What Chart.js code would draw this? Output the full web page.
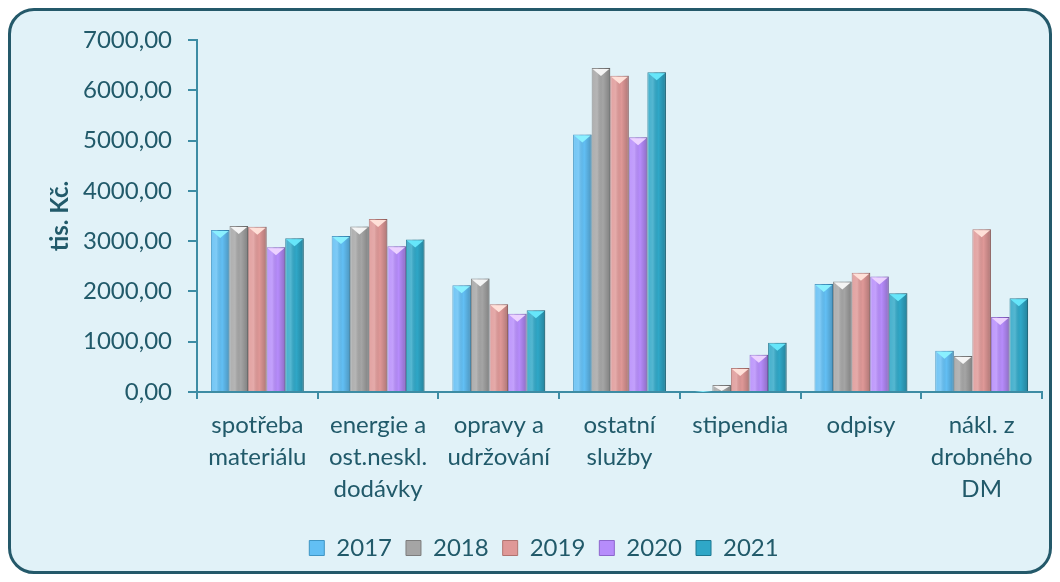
<!DOCTYPE html>
<html>
<head>
<meta charset="utf-8">
<script src="https://cdn.jsdelivr.net/npm/chart.js@4"></script>
<style>
  html, body { margin: 0; padding: 0; background: #ffffff; }
  #obal { position: relative; width: 1060px; height: 582px; }
  #ramecek {
    position: absolute; left: 8px; top: 8px; width: 1038px; height: 560px;
    border: 3px solid #24596a; border-radius: 26px; background: #e1f2f8;
  }
  #graf { position: absolute; left: 0; top: 0; }
</style>
</head>
<body>
<div id="obal">
  <div id="ramecek"></div>
  <canvas id="graf" width="1060" height="582"></canvas>
</div>
<script>
// kategorie nakladu (popisky osy x)
const kategorie = [
  ['spotřeba', 'materiálu'],
  ['energie a', 'ost.neskl.', 'dodávky'],
  ['opravy a', 'udržování'],
  ['ostatní', 'služby'],
  'stipendia',
  'odpisy',
  ['nákl. z', 'drobného', 'DM']
];
const roky = ['2017', '2018', '2019', '2020', '2021'];

// hodnoty v tis. Kč, odhadnute z obrazku
const hodnoty2017 = [3220, 3100, 2125, 5120, 20, 2150, 820];
const hodnoty2018 = [3300, 3290, 2255, 6445, 140, 2195, 715];
const hodnoty2019 = [3285, 3440, 1745, 6290, 475, 2370, 3235];
const hodnoty2020 = [2880, 2900, 1555, 5065, 740, 2295, 1490];
const hodnoty2021 = [3060, 3035, 1625, 6360, 980, 1965, 1865];

const barvy = ['#62bff4', '#a5a5a5', '#df9897', '#b68cfb', '#2fa7c7'];
const okraje = ['#3f95c4', '#7d7d7d', '#b07370', '#8c66cc', '#1d7891'];
const spicky = ['#8af0ff', '#f4f4f4', '#ffe0d8', '#ecd2ff', '#66e6fa'];

const barvaTextu = '#215a6a';
const barvaOs = '#3d8ca4';

Chart.defaults.font.family = 'Lato';
Chart.defaults.font.size = 24;
Chart.defaults.color = barvaTextu;

// 3D efekt sloupcu: prechod zleva doprava a svetly trojuhelnik nahore
const efekt3D = {
  id: 'efekt3D',
  afterDatasetsDraw(chart) {
    const ctx = chart.ctx;
    chart.data.datasets.forEach((ds, i) => {
      const meta = chart.getDatasetMeta(i);
      if (meta.hidden) return;
      meta.data.forEach(bar => {
        const w = bar.width;
        const l = bar.x - w / 2;
        const h = bar.base - bar.y;
        if (h <= 0) return;
        const g = ctx.createLinearGradient(l, 0, l + w, 0);
        g.addColorStop(0, 'rgba(255,255,255,0.10)');
        g.addColorStop(0.3, 'rgba(255,255,255,0.18)');
        g.addColorStop(0.6, 'rgba(0,0,0,0)');
        g.addColorStop(1, 'rgba(0,0,0,0.22)');
        ctx.save();
        ctx.fillStyle = g;
        ctx.fillRect(l, bar.y, w, h);
        const th = Math.min(8, h);
        ctx.fillStyle = spicky[i];
        ctx.beginPath();
        ctx.moveTo(l + 1, bar.y + 1);
        ctx.lineTo(l + w - 1, bar.y + 1);
        ctx.lineTo(bar.x, bar.y + th);
        ctx.closePath();
        ctx.fill();
        ctx.restore();
      });
    });
  }
};

const serie = [hodnoty2017, hodnoty2018, hodnoty2019, hodnoty2020, hodnoty2021];

new Chart(document.getElementById('graf').getContext('2d'), {
  type: 'bar',
  data: {
    labels: kategorie,
    datasets: serie.map((data, i) => ({
      label: roky[i],
      data: data,
      backgroundColor: barvy[i],
      borderColor: okraje[i],
      borderWidth: 1,
      barPercentage: 1,
      categoryPercentage: 5 / 6.5
    }))
  },
  options: {
    responsive: false,
    animation: false,
    layout: { padding: { top: 40, left: 46, right: 18, bottom: 12 } },
    plugins: {
      tooltip: { enabled: false },
      legend: {
        position: 'bottom',
        labels: {
          boxWidth: 15,
          boxHeight: 15,
          padding: 14,
          color: barvaTextu
        }
      }
    },
    scales: {
      x: {
        afterFit: s => { s.height = 130; },
        border: { color: barvaOs, width: 2 },
        grid: { drawOnChartArea: false, color: barvaOs, lineWidth: 2, tickLength: 7 },
        ticks: { padding: 10, maxRotation: 0, autoSkip: false, font: { lineHeight: 32 / 24 } }
      },
      y: {
        min: 0,
        max: 7000,
        afterFit: s => { s.width = 151; },
        border: { color: barvaOs, width: 2 },
        grid: { drawOnChartArea: false, color: barvaOs, lineWidth: 2, tickLength: 9 },
        ticks: {
          stepSize: 1000,
          padding: 16,
          callback: v => v.toFixed(2).replace('.', ',')
        },
        title: {
          display: true,
          text: 'tis. Kč.',
          color: barvaTextu,
          font: { weight: 'bold', size: 24 },
          padding: { top: 0, bottom: 0 }
        }
      }
    }
  },
  plugins: [efekt3D]
});
</script>
</body>
</html>
